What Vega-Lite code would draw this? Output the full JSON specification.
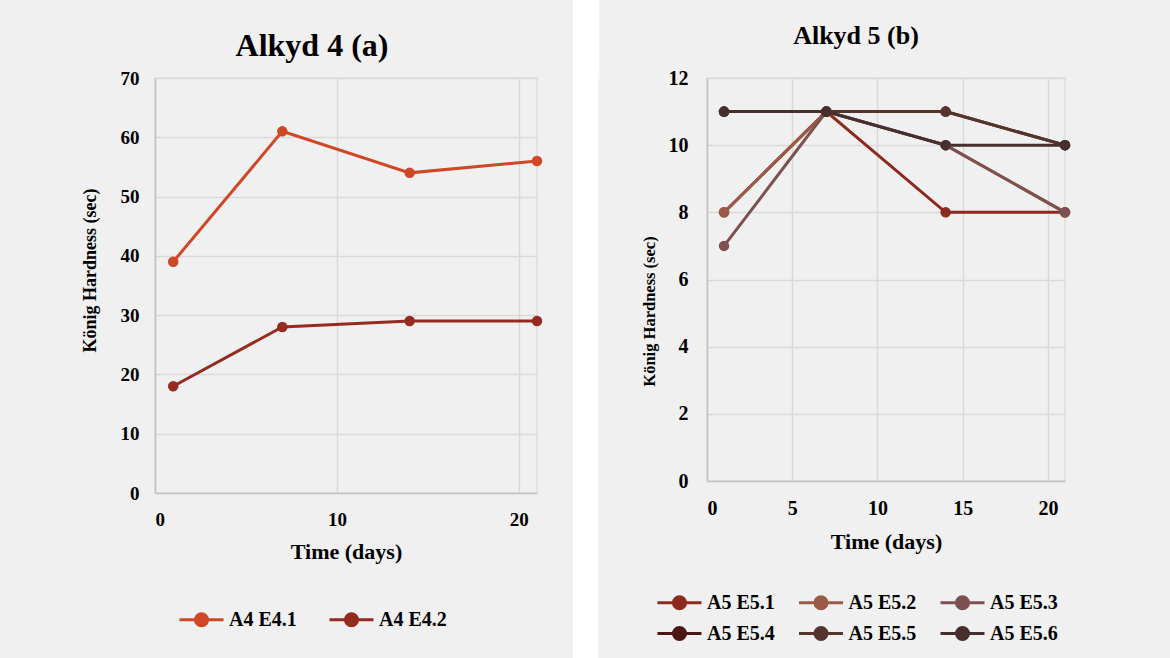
{
  "$schema": "https://vega.github.io/schema/vega-lite/v6.json",
  "background": "#f0f0f0",
  "padding": {"left": 80, "top": -2, "right": 102, "bottom": 0},
  "spacing": 28,
  "config": {
    "font": "Liberation Serif",
    "axis": {
      "labelFont": "Liberation Serif", "labelFontWeight": "bold", "labelFontSize": 19, "labelColor": "black",
      "titleFont": "Liberation Serif", "titleFontWeight": "bold", "titleFontSize": 20, "titleColor": "black",
      "gridColor": "#d9d9d9", "gridWidth": 1.5, "domainColor": "#c4c4c4", "domainWidth": 1.5, "ticks": false
    },
    "view": {"stroke": "#e3ddd3", "strokeWidth": 1.5},
    "legend": {
      "labelFont": "Liberation Serif", "labelFontWeight": "bold", "labelFontSize": 20, "labelColor": "black",
      "symbolType": "M-2,0H2M-0.55,0A0.55,0.55,0,1,1,0.55,0A0.55,0.55,0,1,1,-0.55,0Z",
      "symbolSize": 484, "symbolStrokeWidth": 3, "symbolOpacity": 1, "labelOffset": 15, "padding": 0,
      "orient": "none", "direction": "horizontal", "title": null
    },
    "title": {"font": "Liberation Serif", "fontWeight": "bold", "color": "black", "frame": "bounds", "anchor": "middle"}
  },
  "resolve": {"scale": {"color": "independent"}, "legend": {"color": "independent"}},
  "hconcat": [
    {
      "width": 382, "height": 415,
      "title": {"text": "Alkyd 4 (a)", "fontSize": 32, "offset": 6},
      "data": {"values": [
        {"series": "A4 E4.1", "day": 1, "hardness": 39},
        {"series": "A4 E4.1", "day": 7, "hardness": 61},
        {"series": "A4 E4.1", "day": 14, "hardness": 54},
        {"series": "A4 E4.1", "day": 21, "hardness": 56},
        {"series": "A4 E4.2", "day": 1, "hardness": 18},
        {"series": "A4 E4.2", "day": 7, "hardness": 28},
        {"series": "A4 E4.2", "day": 14, "hardness": 29},
        {"series": "A4 E4.2", "day": 21, "hardness": 29}
      ]},
      "encoding": {
        "x": {"field": "day", "type": "quantitative", "scale": {"domain": [0, 21], "nice": false},
              "axis": {"values": [0, 10, 20], "title": "Time (days)", "titleFontSize": 22, "labelPadding": 17, "titlePadding": 12}},
        "y": {"field": "hardness", "type": "quantitative", "scale": {"domain": [0, 70]},
              "axis": {"values": [0, 10, 20, 30, 40, 50, 60, 70], "title": "König Hardness (sec)", "titleFontSize": 18,
                       "titleY": 192, "labelPadding": 16, "titlePadding": 21}},
        "color": {"field": "series", "type": "nominal",
                  "scale": {"domain": ["A4 E4.1", "A4 E4.2"], "range": ["#cf4724", "#952a21"]},
                  "legend": {"legendX": 34, "legendY": 529, "columnPadding": 26}}
      },
      "layer": [
        {"mark": {"type": "line", "strokeWidth": 3}},
        {"mark": {"type": "point", "filled": true, "size": 110, "opacity": 1}}
      ]
    },
    {
      "width": 25, "height": 582,
      "view": {"fill": "white", "stroke": null},
      "data": {"values": [{"k": 0.5}]},
      "encoding": {
        "x": {"field": "k", "type": "quantitative", "scale": {"domain": [0, 1]},
              "axis": {"orient": "top", "values": [0.04, 0.1, 0.16, 0.22, 0.28, 0.34, 0.4, 0.46, 0.52, 0.58, 0.64, 0.7, 0.76, 0.82, 0.88, 0.94, 0.97],
                       "labels": false, "domain": false, "grid": false, "title": null,
                       "ticks": true, "tickSize": 78.5, "tickWidth": 3, "tickColor": "white", "tickRound": false}},
        "y": {"field": "k", "type": "quantitative", "scale": {"domain": [0, 1]},
              "axis": {"orient": "right", "labels": false, "domain": false, "grid": false, "ticks": false, "title": null, "minExtent": 14}}
      },
      "mark": {"type": "text", "text": ""}
    },
    {
      "width": 358, "height": 403,
      "title": {"text": "Alkyd 5 (b)", "fontSize": 26, "offset": 19},
      "data": {"values": [
        {"series": "A5 E5.1", "day": 1, "hardness": 8},
        {"series": "A5 E5.1", "day": 7, "hardness": 11},
        {"series": "A5 E5.1", "day": 14, "hardness": 8},
        {"series": "A5 E5.1", "day": 21, "hardness": 8},
        {"series": "A5 E5.2", "day": 1, "hardness": 8},
        {"series": "A5 E5.2", "day": 7, "hardness": 11},
        {"series": "A5 E5.2", "day": 14, "hardness": 10},
        {"series": "A5 E5.2", "day": 21, "hardness": 8},
        {"series": "A5 E5.3", "day": 1, "hardness": 7},
        {"series": "A5 E5.3", "day": 7, "hardness": 11},
        {"series": "A5 E5.3", "day": 14, "hardness": 10},
        {"series": "A5 E5.3", "day": 21, "hardness": 8},
        {"series": "A5 E5.4", "day": 1, "hardness": 11},
        {"series": "A5 E5.4", "day": 7, "hardness": 11},
        {"series": "A5 E5.4", "day": 14, "hardness": 11},
        {"series": "A5 E5.4", "day": 21, "hardness": 10},
        {"series": "A5 E5.5", "day": 1, "hardness": 11},
        {"series": "A5 E5.5", "day": 7, "hardness": 11},
        {"series": "A5 E5.5", "day": 14, "hardness": 11},
        {"series": "A5 E5.5", "day": 21, "hardness": 10},
        {"series": "A5 E5.6", "day": 1, "hardness": 11},
        {"series": "A5 E5.6", "day": 7, "hardness": 11},
        {"series": "A5 E5.6", "day": 14, "hardness": 10},
        {"series": "A5 E5.6", "day": 21, "hardness": 10}
      ]},
      "encoding": {
        "x": {"field": "day", "type": "quantitative", "scale": {"domain": [0, 21], "nice": false},
              "axis": {"values": [0, 5, 10, 15, 20], "title": "Time (days)", "titleFontSize": 22, "labelFontSize": 20, "labelPadding": 17, "titlePadding": 13}},
        "y": {"field": "hardness", "type": "quantitative", "scale": {"domain": [0, 12]},
              "axis": {"values": [0, 2, 4, 6, 8, 10, 12], "title": "König Hardness (sec)", "titleFontSize": 16.5, "labelFontSize": 20,
                       "titleY": 233, "labelPadding": 19, "titlePadding": 11}},
        "color": {"field": "series", "type": "nominal",
                  "scale": {"domain": ["A5 E5.1", "A5 E5.2", "A5 E5.3", "A5 E5.4", "A5 E5.5", "A5 E5.6"],
                            "range": ["#8e291e", "#9b5a45", "#7d5150", "#4a1713", "#55342b", "#45302f"]},
                  "legend": {"legendX": -40, "legendY": 512, "columns": 3, "columnPadding": 17.5, "rowPadding": 6}}
      },
      "layer": [
        {"mark": {"type": "line", "strokeWidth": 3}},
        {"mark": {"type": "point", "filled": true, "size": 110, "opacity": 1}}
      ]
    }
  ]
}
